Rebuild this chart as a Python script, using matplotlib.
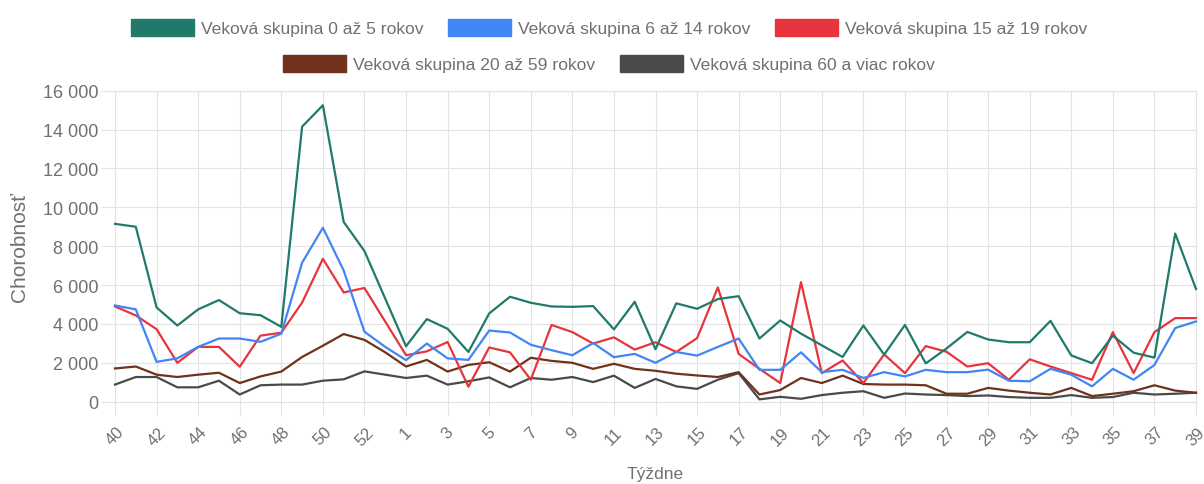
import matplotlib.pyplot as plt
from matplotlib.patches import Patch
from matplotlib.ticker import FuncFormatter

# týždne sezóny (40.-53. týždeň a potom 1.-39.)
weeks = list(range(40, 54)) + list(range(1, 40))

g_0_5 = [9150, 9000, 4850, 3920, 4750, 5230, 4550, 4450, 3850, 14150, 15250, 9250, 7750, 5300,
         2850, 4250, 3750, 2560, 4540, 5400, 5090, 4900, 4880, 4920, 3720, 5140, 2700, 5060,
         4780, 5280, 5430, 3250, 4180, 3500, 2900, 2300, 3920, 2420, 3950, 1970, 2740, 3590,
         3200, 3060, 3060, 4160, 2380, 1980, 3400, 2520, 2270, 8650, 5800]
g_6_14 = [4950, 4750, 2050, 2230, 2820, 3250, 3250, 3080, 3500, 7150, 8950, 6750, 3600, 2820,
          2140, 2990, 2230, 2150, 3660, 3560, 2930, 2650, 2390, 3020, 2290, 2460, 2000, 2560,
          2370, 2820, 3250, 1640, 1640, 2540, 1520, 1640, 1220, 1520, 1300, 1640, 1520, 1520,
          1650, 1080, 1050, 1690, 1390, 790, 1690, 1130, 1890, 3790, 4130]
g_15_19 = [4900, 4440, 3730, 2000, 2820, 2820, 1800, 3400, 3550, 5100, 7350, 5620, 5850, 4120,
           2390, 2590, 3070, 770, 2790, 2540, 1130, 3950, 3580, 2990, 3310, 2680, 3060, 2560,
           3270, 5880, 2460, 1690, 960, 6150, 1470, 2120, 960, 2430, 1470, 2860, 2570, 1810,
           1980, 1130, 2180, 1810, 1470, 1130, 3580, 1470, 3580, 4300, 4300]
g_20_59 = [1710, 1810, 1390, 1270, 1390, 1490, 960, 1300, 1550, 2300, 2880, 3480, 3180, 2540,
           1810, 2150, 1550, 1890, 2030, 1550, 2260, 2100, 2000, 1690, 1950, 1690, 1590, 1440,
           1350, 1270, 1520, 370, 600, 1220, 960, 1340, 910, 880, 880, 845, 410, 410,
           710, 570, 460, 370, 710, 290, 410, 540, 845, 570, 460]
g_60 = [880, 1270, 1270, 740, 740, 1080, 370, 845, 880, 880, 1080, 1150, 1560, 1390,
        1220, 1340, 880, 1050, 1250, 740, 1220, 1130, 1270, 1010, 1340, 710, 1170, 790,
        660, 1130, 1470, 120, 250, 150, 340, 460, 540, 200, 420, 370, 340, 290,
        320, 240, 200, 200, 340, 200, 240, 460, 370, 410, 460]

labels = ['Veková skupina 0 až 5 rokov', 'Veková skupina 6 až 14 rokov',
          'Veková skupina 15 až 19 rokov', 'Veková skupina 20 až 59 rokov',
          'Veková skupina 60 a viac rokov']
colors = ['#1f7a6b', '#4285f4', '#e8343c', '#70321a', '#4a4a4a']
series = [g_0_5, g_6_14, g_15_19, g_20_59, g_60]

plt.rcParams['font.family'] = ['Liberation Sans', 'DejaVu Sans']
grid_c = '#e3e3e3'
text_c = '#707070'

fig = plt.figure(figsize=(12.04, 4.85), dpi=100)
ax = fig.add_axes([115 / 1204, 1 - 402.7 / 485, 1081 / 1204, 311 / 485])

x = list(range(len(weeks)))
for k in reversed(range(len(series))):
    ax.plot(x, series[k], color=colors[k], linewidth=1.6, clip_on=False, zorder=3 + (5 - k))

ax.set_xlim(0, len(weeks) - 1)
ax.set_ylim(0, 16000)
ax.set_yticks(range(0, 16001, 2000))
ax.yaxis.set_major_formatter(FuncFormatter(lambda v, p: f'{int(v):,}'.replace(',', ' ')))
ax.set_xticks(x[::2])
ax.set_xticklabels([str(w) for w in weeks[::2]], rotation=45, ha='center')

ax.grid(True, color=grid_c, linewidth=0.8)
ax.set_axisbelow(True)
for s in ax.spines.values():
    s.set_color(grid_c)
    s.set_linewidth(0.8)
ax.tick_params(axis='both', color=grid_c, length=10, width=0.8, labelcolor=text_c)
ax.tick_params(axis='y', labelsize=13, pad=2)
ax.tick_params(axis='x', labelsize=12, pad=6)

ax.set_xlabel('Týždne', fontsize=12.5, color=text_c, labelpad=13)
ax.set_ylabel('Chorobnosť', fontsize=15, color=text_c, labelpad=10)

handles = [Patch(facecolor=c, edgecolor=c) for c in colors]
leg_kw = dict(loc='center', frameon=False, prop={'size': 12.6},
              handlelength=3.6, handleheight=1.2, handletextpad=0.4,
              columnspacing=1.4, borderpad=0)
leg1 = fig.legend(handles[:3], labels[:3], ncol=3,
                  bbox_to_anchor=(609 / 1204, 1 - 28.5 / 485), **leg_kw)
leg2 = fig.legend(handles[3:], labels[3:], ncol=2,
                  bbox_to_anchor=(609 / 1204, 1 - 64.5 / 485), **leg_kw)
for leg in (leg1, leg2):
    for t in leg.get_texts():
        t.set_color(text_c)

fig.savefig('out.png', dpi=100)
